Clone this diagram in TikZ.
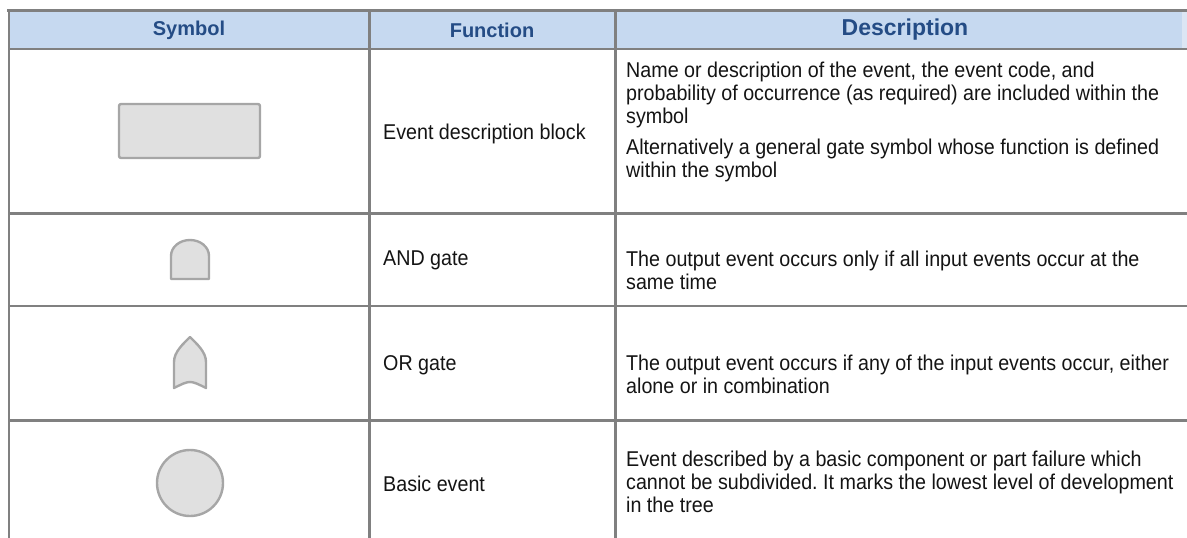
\documentclass[tikz,border=0pt]{standalone}
\usepackage{fontspec}
\setmainfont{Liberation Sans}
\newfontfamily\bodyfont[FakeStretch=0.92]{Liberation Sans}
\frenchspacing
\definecolor{rulegray}{RGB}{128,128,128}
\definecolor{headfill}{RGB}{198,217,240}
\definecolor{headedge}{RGB}{220,230,244}
\definecolor{headtext}{RGB}{36,76,133}
\definecolor{symfill}{RGB}{224,224,224}
\definecolor{symline}{RGB}{166,166,166}
\definecolor{bodytext}{RGB}{20,20,20}
\begin{document}
\begin{tikzpicture}[x=1pt,y=-1pt,
  gridrule/.style={draw=rulegray,line width=2.6pt},
  symbolshape/.style={draw=symline,fill=symfill,line width=2.4pt,line join=round},
  headcell/.style={text=headtext,inner sep=0pt,font=\fontsize{20}{24}\selectfont\bfseries},
  funccell/.style={anchor=west,text=bodytext,inner sep=0pt,font=\bodyfont\fontsize{21.4}{23}\selectfont},
  desccell/.style={anchor=west,align=left,text=bodytext,inner sep=0pt,font=\bodyfont\fontsize{21.4}{23}\selectfont}]
\useasboundingbox (0,0) rectangle (1187,538);

% header band
\fill[headfill] (9,11) rectangle (1182,48);
\fill[headedge] (1182,11) rectangle (1187,48);

% symbols
\draw[symbolshape,rounded corners=2pt] (119,104) rectangle (260,158);
\draw[symbolshape] (171,279) -- (171,256)
  .. controls (171,247) and (179.5,240) .. (190,240)
  .. controls (200.5,240) and (209,247) .. (209,256) -- (209,279) -- cycle;
\draw[symbolshape] (190,337) .. controls (183,344) and (174,352) .. (174,362)
  -- (174,388) .. controls (190,380) .. (206,388) -- (206,362)
  .. controls (206,352) and (197,344) .. (190,337) -- cycle;
\draw[symbolshape] (190,483) circle[radius=33pt];

% table rules
\draw[gridrule] (7,10.5) -- (1187,10.5);
\draw[gridrule] (9,49) -- (1187,49);
\draw[gridrule] (9,213.5) -- (1187,213.5);
\draw[gridrule] (9,306) -- (1187,306);
\draw[gridrule] (9,420.3) -- (1187,420.3);
\draw[gridrule] (9,9.3) -- (9,538);
\draw[gridrule] (369.3,9.3) -- (369.3,538);
\draw[gridrule] (615.5,9.3) -- (615.5,538);

% header texts
\node[headcell] (hsym) at (189,30) {Symbol};
\node[headcell] (hfun) at (492,30) {Function};
\node[headcell,font=\fontsize{23}{26}\selectfont\bfseries] (hdesc) at (905,30) {Description};

% function column
\node[funccell] (f1) at (383,134) {Event description block};
\node[funccell] (f2) at (383,260) {AND gate};
\node[funccell] (f3) at (383,365) {OR gate};
\node[funccell] (f4) at (383,484) {Basic event};

% description column
\node[desccell] (d1) at (626,122) {Name or description of the event, the event code, and\\
probability of occurrence (as required) are included within the\\
symbol\\[8pt]
Alternatively a general gate symbol whose function is defined\\
within the symbol};
\node[desccell] (d2) at (626,270) {The output event occurs only if all input events occur at the\\
same time};
\node[desccell] (d3) at (626,374.5) {The output event occurs if any of the input events occur, either\\
alone or in combination};
\node[desccell] (d4) at (626,482) {Event described by a basic component or part failure which\\
cannot be subdivided. It marks the lowest level of development\\
in the tree};
\end{tikzpicture}
\end{document}
